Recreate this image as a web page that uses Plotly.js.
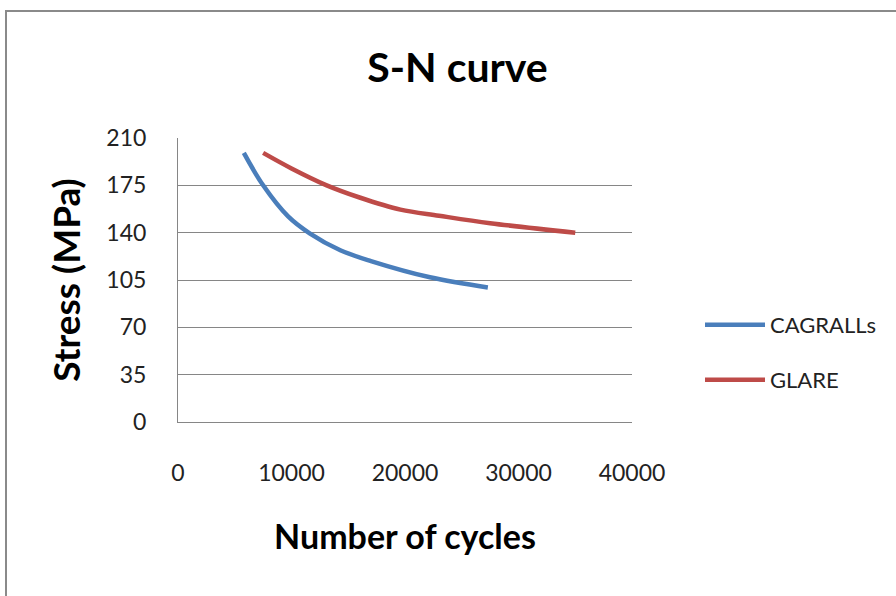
<!DOCTYPE html>
<html>
<head>
<meta charset="utf-8">
<script src="https://cdn.plot.ly/plotly-3.0.1.min.js"></script>
<style>html,body{margin:0;padding:0;background:#fff;}#chart{width:896px;height:596px;}</style>
</head>
<body>
<div id="chart"></div>
<script>
const cagrallsCycles = [5800, 7500, 9700, 11600, 14300, 17000, 22200, 27300];
const cagrallsStress = [199, 175, 152, 139.5, 127, 119, 107, 99.5];
const glareCycles = [7500, 10000, 13100, 16000, 19600, 23000, 27500, 35000];
const glareStress = [199, 187.5, 175, 166, 157, 152.5, 147, 140];
const seriesNames = ['CAGRALLs', 'GLARE'];
const yTicks = [0, 35, 70, 105, 140, 175, 210];
const xTicks = [0, 10000, 20000, 30000, 40000];

const FONT = 'Lato, "Open Sans", sans-serif';
const L = 178, R = 632, T = 138, B = 422;
const pw = R - L, ph = B - T;
const px = v => (v - L) / pw;
const py = v => (B - v) / ph;

const traces = [
  {x: cagrallsCycles, y: cagrallsStress, name: seriesNames[0], mode: 'lines',
   line: {color: '#4A7EBB', width: 4.5, shape: 'spline', smoothing: 1}, legend: 'legend'},
  {x: glareCycles, y: glareStress, name: seriesNames[1], mode: 'lines',
   line: {color: '#BE4B48', width: 4.5, shape: 'spline', smoothing: 1}, legend: 'legend2'}
];

const legendCommon = {
  font: {family: FONT, size: 22, color: '#222'},
  bgcolor: 'rgba(0,0,0,0)', itemwidth: 60, xanchor: 'left', yanchor: 'middle'
};

const layout = {
  width: 896, height: 596,
  margin: {l: L, r: 896 - R, t: T, b: 596 - B},
  paper_bgcolor: '#fff', plot_bgcolor: '#fff',
  font: {family: FONT, color: '#222'},
  showlegend: true,
  title: {text: '<b>S-N curve</b>', font: {family: FONT, size: 41, color: '#000'},
          x: 457.5 / 896, xref: 'container', xanchor: 'center',
          y: 1 - 68 / 596, yref: 'container', yanchor: 'middle'},
  xaxis: {range: [0, 40000], tickvals: xTicks, ticktext: xTicks.map(String),
          showgrid: false, zeroline: false, showline: true, linecolor: '#868686', linewidth: 1,
          ticks: '', ticklabelstandoff: 30,
          tickfont: {family: FONT, size: 23, color: '#222'},
          title: {text: '<b>Number of cycles</b>', font: {family: FONT, size: 34, color: '#000'}, standoff: 40}},
  yaxis: {range: [0, 210], tickvals: yTicks, ticktext: yTicks.map(String),
          showgrid: true, gridcolor: '#868686', gridwidth: 1, zeroline: false,
          showline: true, linecolor: '#868686', linewidth: 1,
          ticks: '', ticklabelstandoff: 26,
          tickfont: {family: FONT, size: 23, color: '#222'},
          title: {text: '<b>Stress (MPa)</b>', font: {family: FONT, size: 37, color: '#000'}, standoff: 14}},
  legend: Object.assign({x: px(700), y: py(325)}, legendCommon),
  legend2: Object.assign({x: px(700), y: py(380)}, legendCommon),
  shapes: [{type: 'rect', xref: 'paper', yref: 'paper',
            x0: px(6), x1: px(920), y0: py(620), y1: py(11),
            line: {color: '#8A8A8A', width: 2}, fillcolor: 'rgba(0,0,0,0)', layer: 'below'}]
};

Plotly.newPlot('chart', traces, layout, {displayModeBar: false, staticPlot: true});
</script>
</body>
</html>
